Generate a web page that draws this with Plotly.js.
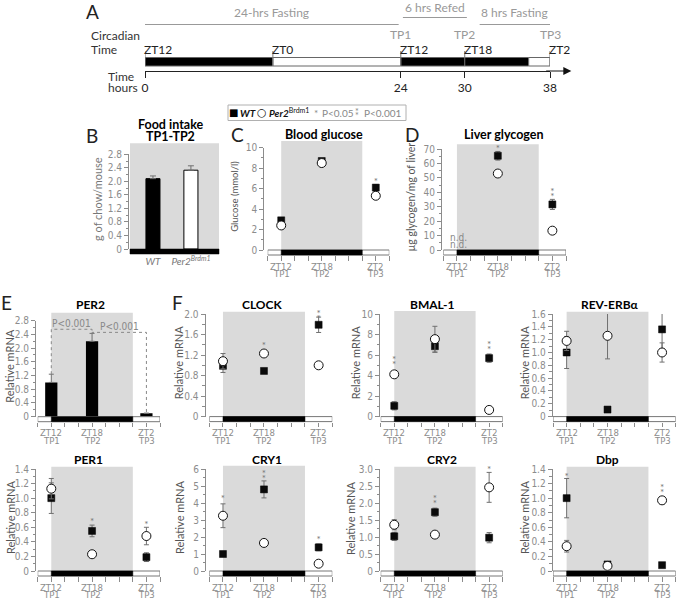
<!DOCTYPE html>
<html><head><meta charset="utf-8">
<script src="https://cdn.plot.ly/plotly-3.0.1.min.js"></script>
<style>html,body{margin:0;padding:0;background:#fff}#chart{width:678px;height:601px}</style>
</head><body><div id="chart"></div>
<script>
// ================= DATA =================
// Panel A – experimental timeline (hours from start)
const aPhaseStart = [0, 12, 24, 36];
const aPhaseEnd   = [12, 24, 36, 38];
const aPhaseDark  = [true, false, true, false];
const aZTHours  = [0, 12, 24, 30, 38];
const aZTLabels = ['ZT12', 'ZT0', 'ZT12', 'ZT18', 'ZT2'];
const aTPHours  = [24, 30, 38];
const aTPLabels = ['TP1', 'TP2', 'TP3'];
const aHourTicks = [0, 24, 30, 38];
const aPeriodStart  = [0, 24.2, 31.4];
const aPeriodEnd    = [23.8, 30.2, 38];
const aPeriodLabels = ['24-hrs Fasting', '6 hrs Refed', '8 hrs Fasting'];

// Sampling times (hours on the timeline)
const timeHours = [24, 30, 38];
const timeZT = ['ZT12', 'ZT18', 'ZT2'];
const timeTP = ['TP1', 'TP2', 'TP3'];
const darkPhase = [24, 36];
const xTickVals = [22, 24, 26, 28, 30, 32, 34, 36, 38, 40];

// B – food intake TP1-TP2
const foodGroups = ['<i>WT</i>', '<i>Per2<sup>Brdm1</sup></i>'];
const foodIntake = [2.08, 2.33];
const foodIntakeErr = [0.08, 0.13];

// C – blood glucose
const glucoseWT = [2.9, 8.7, 6.1];
const glucoseWTErr = [0.15, 0.2, 0.3];
const glucosePer2 = [2.4, 8.5, 5.3];
const glucosePer2Err = [0.15, 0.2, 0.2];
const glucoseSig = ['', '', '*'];
const glucoseSigY = [null, null, 6.6];

// D – liver glycogen
const glycogenWT = [null, 65.3, 31.6];
const glycogenWTErr = [0, 3, 3.5];
const glycogenPer2 = [null, 53, 13.4];
const glycogenPer2Err = [0, 0, 0];
const glycogenSig = ['', '*', '**'];
const glycogenSigY = [null, 69.5, 36.5];
const glycogenND = ['n.d.', '', ''];

// E – PER2 mRNA (WT only)
const per2Mrna = [1.0, 2.2, 0.1];
const per2MrnaErr = [0.24, 0.23, 0];
const per2BracketFrom = [0, 1];
const per2BracketTo   = [1, 2];
const per2BracketHeight = [2.55, 2.46];
const per2BracketText = ['P&lt;0.001', 'P&lt;0.001'];

// F – clock genes: WT (filled squares) and Per2Brdm1 (open circles)
const clockWT = [0.99, 0.89, 1.79],  clockWTErr = [0.13, 0.03, 0.15];
const clockPer2 = [1.08, 1.23, 1.0], clockPer2Err = [0.15, 0.05, 0];
const clockSig = ['', '*', '**'],    clockSigY = [null, 1.36, 1.9];

const bmalWT = [1.05, 6.86, 5.7],    bmalWTErr = [0.4, 0.6, 0.4];
const bmalPer2 = [4.12, 7.55, 0.65], bmalPer2Err = [0.3, 1.25, 0.1];
const bmalSig = ['**', '', '**'],    bmalSigY = [5.0, null, 6.45];

const revWT = [1.0, 0.11, 1.36],     revWTErr = [0.25, 0.02, 0.3];
const revPer2 = [1.18, 1.26, 1.0],   revPer2Err = [0.15, 0.36, 0.15];
const revSig = ['', '*', ''],        revSigY = [null, 1.62, null];

const per1WT = [1.0, 0.55, 0.19],    per1WTErr = [0.21, 0.08, 0.06];
const per1Per2 = [1.13, 0.23, 0.48], per1Per2Err = [0.14, 0.03, 0.12];
const per1Sig = ['', '*', '*'],      per1SigY = [null, 0.67, 0.63];

const cry1WT = [1.0, 4.8, 1.39],     cry1WTErr = [0.1, 0.5, 0.2];
const cry1Per2 = [3.25, 1.65, 0.43], cry1Per2Err = [0.7, 0.1, 0.05];
const cry1Sig = ['*', '**', '*'],    cry1SigY = [4.2, 5.4, 1.82];

const cry2WT = [1.02, 1.73, 0.98],   cry2WTErr = [0.12, 0.12, 0.15];
const cry2Per2 = [1.36, 1.07, 2.46], cry2Per2Err = [0.15, 0.03, 0.44];
const cry2Sig = ['', '**', '*'],     cry2SigY = [null, 1.97, 2.97];

const dbpWT = [1.0, 0.09, 0.08],     dbpWTErr = [0.27, 0.01, 0.01];
const dbpPer2 = [0.34, 0.07, 0.97],  dbpPer2Err = [0.08, 0.02, 0.05];
const dbpSig = ['*', '', '**'],      dbpSigY = [1.29, null, 1.07];

// ================= DRAWING =================
const W = 678, H = 601;
const fx = p => p / W;
const fy = p => 1 - p / H;
const NARROW = "'Liberation Sans Narrow','DejaVu Sans Condensed',Lato,sans-serif";
const SANS = "Lato,'Open Sans','DejaVu Sans',sans-serif";
const AXC = '#8c8c8c', TXTG = '#8c8c8c', SHADE = '#dadada', ERRC = '#707070';

const data = [], shapes = [], ann = [];
const layout = {
  width: W, height: H, margin: {l: 0, r: 0, t: 0, b: 0, pad: 0},
  paper_bgcolor: '#fff', plot_bgcolor: 'rgba(0,0,0,0)', showlegend: false, hovermode: false,
  font: {family: NARROW, color: '#333'}, shapes: shapes, annotations: ann
};

function A(o) { ann.push(Object.assign({showarrow: false, xanchor: 'center', yanchor: 'middle'}, o)); }
function txt(text, xp, yp, o) {
  A(Object.assign({text: text, x: fx(xp), y: fy(yp), xref: 'paper', yref: 'paper',
    font: {family: SANS, size: 12, color: '#222'}}, o || {}));
}

// ---------- Panel A ----------
layout.xaxis = {domain: [fx(145), fx(550)], range: [0, 38], anchor: 'free', position: fy(71),
  showline: true, linecolor: '#222', linewidth: 1, ticks: 'outside', ticklen: 6, tickcolor: '#222',
  tickvals: aHourTicks, ticktext: aHourTicks.map(String),
  tickfont: {family: SANS, size: 12, color: '#222'}, showgrid: false, zeroline: false};
layout.yaxis = {domain: [fy(70), 1], range: [0, 1], visible: false};
data.push({type: 'scatter', x: [aHourTicks[0]], y: [0], mode: 'markers', marker: {opacity: 0},
  xaxis: 'x', yaxis: 'y', hoverinfo: 'skip'});
aPhaseStart.forEach((s, i) => shapes.push({type: 'rect', xref: 'x', yref: 'paper', x0: s, x1: aPhaseEnd[i],
  y0: fy(66), y1: fy(57.5), fillcolor: aPhaseDark[i] ? '#000' : '#fff', line: {color: '#666', width: 1}}));
aZTHours.forEach(h => shapes.push({type: 'line', xref: 'x', yref: 'paper', x0: h, x1: h,
  y0: fy(66), y1: fy(51), line: {color: '#777', width: 1}}));
aZTHours.forEach((h, i) => A({text: aZTLabels[i], x: h, xref: 'x', y: fy(49.5), yref: 'paper',
  xanchor: 'left', xshift: -3, font: {family: SANS, size: 12, color: '#222'}}));
aTPHours.forEach((h, i) => A({text: aTPLabels[i], x: h, xref: 'x', y: fy(35), yref: 'paper',
  font: {family: SANS, size: 12, color: '#999'}}));
const periodLineY = [24.5, 17.5, 24.5], periodTextY = [13, 8, 13];
aPeriodStart.forEach((s, i) => {
  shapes.push({type: 'line', xref: 'x', yref: 'paper', x0: s, x1: aPeriodEnd[i],
    y0: fy(periodLineY[i]), y1: fy(periodLineY[i]), line: {color: '#999', width: 1}});
  A({text: aPeriodLabels[i], x: (s + aPeriodEnd[i]) / 2, xref: 'x', y: fy(periodTextY[i]), yref: 'paper',
    font: {family: SANS, size: 12, color: '#999'}});
});
ann.push({text: '', x: 40, y: fy(71), xref: 'x', yref: 'paper', ax: 37.5, ay: fy(71), axref: 'x', ayref: 'paper',
  showarrow: true, arrowhead: 2, arrowsize: 1.6, arrowwidth: 1, arrowcolor: '#111'});
txt('Circadian', 89, 36, {xanchor: 'left', font: {family: SANS, size: 12, color: '#333'}});
txt('Time', 89, 49, {xanchor: 'left', font: {family: SANS, size: 12, color: '#333'}});
txt('Time', 106, 76, {xanchor: 'left', font: {family: SANS, size: 12, color: '#333'}});
txt('hours', 106, 88, {xanchor: 'left', font: {family: SANS, size: 12, color: '#333'}});
txt('A', 92, 12, {font: {family: SANS, size: 19, color: '#222'}});

// ---------- Legend ----------
shapes.push({type: 'rect', xref: 'paper', yref: 'paper', x0: fx(228), x1: fx(406), y0: fy(120.5), y1: fy(105),
  fillcolor: '#fff', line: {color: '#b0b0b0', width: 1}});
txt('■', 233.5, 112.5, {font: {family: 'DejaVu Sans', size: 10, color: '#000'}});
txt('<b><i>WT</i></b>', 238, 112.5, {xanchor: 'left', font: {family: SANS, size: 10, color: '#111'}});
txt('○', 261.5, 112.5, {font: {family: 'DejaVu Sans', size: 11, color: '#111'}});
txt('<b><i>Per2</i></b><sup>Brdm1</sup>', 267, 112.5, {xanchor: 'left', font: {family: SANS, size: 10, color: '#111'}});
txt('*', 316, 113, {font: {family: SANS, size: 10, color: '#888'}});
txt('P&lt;0.05', 320, 112.5, {xanchor: 'left', font: {family: SANS, size: 10, color: '#888'}});
txt('*', 357, 111, {font: {family: SANS, size: 9, color: '#888'}});
txt('*', 357, 115.5, {font: {family: SANS, size: 9, color: '#888'}});
txt('P&lt;0.001', 362, 112.5, {xanchor: 'left', font: {family: SANS, size: 10, color: '#888'}});

// ---------- helpers ----------
function yAxis(c) {
  const tv = [];
  for (let k = 0; k * c.major <= c.top + 1e-9; k++) tv.push(+(k * c.major).toFixed(3));
  return {domain: [fy(c.y0), fy(c.yTop)], range: [0, c.top], anchor: 'free', position: fx(c.axisX),
    showline: true, linecolor: AXC, linewidth: 1, ticks: 'outside', ticklen: 4, tickcolor: AXC, tickwidth: 1,
    tickvals: tv, ticktext: tv.map(v => v === 0 ? '0' : v.toFixed(c.dec)),
    tickfont: {family: NARROW, size: 10, color: TXTG},
    minor: {ticks: 'outside', ticklen: 2.5, tickcolor: AXC, tick0: 0, dtick: c.minor, showgrid: false},
    showgrid: false, zeroline: false};
}
function decorations(c) {
  txt(c.title, c.titleX, c.titleY, {font: {family: SANS, size: c.titleSize || 12, color: '#000', weight: 'bold'}});
  txt(c.ytitle, c.ytitleX, (c.y0 + c.yTop) / 2 - 2, {textangle: -90,
    font: {family: SANS, size: c.ytitleSize || 11, color: '#555'}});
  if (c.letter) txt(c.letter, c.letterX, c.letterY, {font: {family: SANS, size: 19, color: '#222'}});
}
function timePanel(c) {
  const n = c.n, xr = 'x' + n, yr = 'y' + n;
  layout['xaxis' + n] = {domain: [fx(c.x0), fx(c.x1)], range: [xTickVals[0], xTickVals[xTickVals.length - 1]],
    anchor: 'free', position: fy(c.y0 + 5), showline: false, ticks: 'outside', ticklen: 4.5,
    tickcolor: AXC, tickwidth: 1, tickvals: xTickVals, showticklabels: false, showgrid: false, zeroline: false};
  layout['yaxis' + n] = yAxis(c);
  const hpx = c.y0 - c.yTop;
  shapes.push({type: 'rect', xref: xr, yref: yr + ' domain', x0: darkPhase[0], x1: darkPhase[1],
    y0: 0, y1: (c.y0 - c.grayTop) / hpx, fillcolor: SHADE, line: {width: 0}, layer: 'below'});
  shapes.push({type: 'rect', xref: xr, yref: yr + ' domain', x0: xTickVals[0], x1: xTickVals[xTickVals.length - 1],
    y0: -5 / hpx, y1: 0, fillcolor: '#fff', line: {color: '#777', width: 1}, layer: 'above'});
  shapes.push({type: 'rect', xref: xr, yref: yr + ' domain', x0: darkPhase[0], x1: darkPhase[1],
    y0: -5 / hpx, y1: 0, fillcolor: '#000', line: {color: '#000', width: 0.5}, layer: 'above'});
  timeHours.forEach((h, i) => {
    A({text: timeZT[i], x: h, xref: xr, y: fy(c.y0 + 16), yref: 'paper',
      font: {family: NARROW, size: 9.5, color: TXTG}});
    A({text: timeTP[i], x: h, xref: xr, y: fy(c.y0 + 23.5), yref: 'paper',
      font: {family: NARROW, size: 9.5, color: TXTG}});
  });
  decorations(c);
}
function points(c, wt, wtErr, p2, p2Err, sig, sigY) {
  const xr = 'x' + c.n, yr = 'y' + c.n;
  data.push({type: 'scatter', mode: 'markers', x: timeHours, y: wt, xaxis: xr, yaxis: yr, cliponaxis: false,
    marker: {symbol: 'square', size: 7, color: '#0a0a0a', line: {color: '#000', width: 0.5}},
    error_y: {type: 'data', array: wtErr, color: ERRC, thickness: 1, width: 2.5}});
  data.push({type: 'scatter', mode: 'markers', x: timeHours, y: p2, xaxis: xr, yaxis: yr, cliponaxis: false,
    marker: {symbol: 'circle', size: 9, color: '#fff', line: {color: '#111', width: 1}},
    error_y: {type: 'data', array: p2Err, color: ERRC, thickness: 1, width: 2.5}});
  const s1x = [], s1y = [], s2x = [], s2y = [];
  sig.forEach((s, i) => {
    if (s.length >= 1) { s1x.push(timeHours[i]); s1y.push(sigY[i]); }
    if (s.length >= 2) { s2x.push(timeHours[i]); s2y.push(sigY[i]); }
  });
  if (s1x.length) data.push({type: 'scatter', mode: 'text', x: s1x, y: s1y, text: s1x.map(() => '*'),
    textposition: 'middle center', textfont: {family: SANS, size: 10, color: '#777'}, xaxis: xr, yaxis: yr, cliponaxis: false});
  if (s2x.length) data.push({type: 'scatter', mode: 'text', x: s2x, y: s2y, text: s2x.map(() => '*'),
    textposition: 'top center', textfont: {family: SANS, size: 10, color: '#777'}, xaxis: xr, yaxis: yr, cliponaxis: false});
}

// ---------- Panel B ----------
{
  const c = {n: 2, y0: 249, yTop: 154.3, top: 2.8, major: 0.4, minor: 0.2, dec: 1, axisX: 128};
  const hpx = c.y0 - c.yTop;
  layout.xaxis2 = {domain: [fx(130), fx(219)], range: [-0.605, 1.74], anchor: 'free', position: fy(254),
    showline: false, ticks: '', tickvals: foodGroups.map((_, i) => i), ticktext: foodGroups,
    tickfont: {family: SANS, size: 10, color: '#777'}, showgrid: false, zeroline: false};
  layout.yaxis2 = yAxis(c);
  shapes.push({type: 'rect', xref: 'x2 domain', yref: 'y2 domain', x0: 0, x1: 1, y0: 0, y1: (249 - 143.3) / hpx,
    fillcolor: SHADE, line: {width: 0}, layer: 'below'});
  shapes.push({type: 'rect', xref: 'x2 domain', yref: 'y2 domain', x0: 0, x1: 1, y0: -5 / hpx, y1: 0,
    fillcolor: '#000', line: {color: '#000', width: 0.5}, layer: 'above'});
  data.push({type: 'bar', x: foodGroups.map((_, i) => i), y: foodIntake, width: 0.37, xaxis: 'x2', yaxis: 'y2',
    marker: {color: ['#000', '#fff'], line: {color: '#000', width: 1}},
    error_y: {type: 'data', array: foodIntakeErr, arrayminus: [0, 0], symmetric: false, color: ERRC, thickness: 1, width: 3}});
  txt('Food intake', 170, 124, {font: {family: SANS, size: 12.5, color: '#000', weight: 'bold'}});
  txt('TP1-TP2', 170, 136, {font: {family: SANS, size: 12.5, color: '#000', weight: 'bold'}});
  txt('g of chow/mouse', 98, 199, {textangle: -90, font: {family: SANS, size: 11, color: '#777'}});
  txt('B', 92, 135, {font: {family: SANS, size: 19, color: '#222'}});
}

// ---------- Panel C ----------
const cfgC = {n: 3, x0: 267.7, x1: 389.3, axisX: 263.3, y0: 250, yTop: 147.7, top: 10, major: 2, minor: 1, dec: 0,
  grayTop: 141, title: 'Blood glucose', titleX: 324, titleY: 134, titleSize: 12.5,
  ytitle: 'Glucose (mmol/l)', ytitleX: 235, ytitleSize: 9.5, letter: 'C', letterX: 237, letterY: 134};
timePanel(cfgC);
points(cfgC, glucoseWT, glucoseWTErr, glucosePer2, glucosePer2Err, glucoseSig, glucoseSigY);

// ---------- Panel D ----------
const cfgD = {n: 4, x0: 443.3, x1: 566, axisX: 441, y0: 250, yTop: 149, top: 70, major: 10, minor: 5, dec: 0,
  grayTop: 144.3, title: 'Liver glycogen', titleX: 504, titleY: 134, titleSize: 12.5,
  ytitle: 'µg glycogen/mg of liver', ytitleX: 411, ytitleSize: 10.5, letter: 'D', letterX: 412, letterY: 134};
timePanel(cfgD);
points(cfgD, glycogenWT, glycogenWTErr, glycogenPer2, glycogenPer2Err, glycogenSig, glycogenSigY);
glycogenND.forEach((t, i) => {
  if (!t) return;
  [13, 5.5].forEach(sh => A({text: t, x: timeHours[i], y: 0, xref: 'x4', yref: 'y4', yshift: sh, xshift: 2,
    font: {family: NARROW, size: 10, color: '#888'}}));
});

// ---------- Panel E (PER2) ----------
const cfgE = {n: 5, x0: 37.7, x1: 160, axisX: 35, y0: 416.7, yTop: 320.7, top: 2.8, major: 0.4, minor: 0.2, dec: 1,
  grayTop: 312.7, title: 'PER2', titleX: 90, titleY: 304, ytitle: 'Relative mRNA', ytitleX: 10,
  letter: 'E', letterX: 6, letterY: 302};
timePanel(cfgE);
data.push({type: 'bar', x: timeHours, y: per2Mrna, width: 1.8, xaxis: 'x5', yaxis: 'y5',
  marker: {color: '#000', line: {width: 0}},
  error_y: {type: 'data', array: per2MrnaErr, arrayminus: [0, 0, 0], symmetric: false, color: ERRC, thickness: 1, width: 2.5}});
per2BracketFrom.forEach((a, i) => {
  const b = per2BracketTo[i], h = per2BracketHeight[i];
  const ya = per2Mrna[a] + per2MrnaErr[a], yb = per2Mrna[b] + per2MrnaErr[b];
  shapes.push({type: 'path', xref: 'x5', yref: 'y5',
    path: 'M' + timeHours[a] + ',' + ya + ' L' + timeHours[a] + ',' + h + ' L' + timeHours[b] + ',' + h + ' L' + timeHours[b] + ',' + yb,
    line: {color: '#888', width: 1, dash: 'dot'}});
  A({text: per2BracketText[i], x: (timeHours[a] + timeHours[b]) / 2, y: h, xref: 'x5', yref: 'y5', yshift: 6,
    font: {family: NARROW, size: 10, color: '#888'}});
});

// ---------- Panel F ----------
const top1 = {y0: 416.6, yTop: 314}, bot = {y0: 571, yTop: 469};
const cfgClock = Object.assign({n: 6, x0: 209.3, x1: 332.3, axisX: 204.5, top: 2.0, major: 0.4, minor: 0.2, dec: 1,
  grayTop: 311.7, title: 'CLOCK', titleX: 262, titleY: 304, ytitle: 'Relative mRNA', ytitleX: 178,
  letter: 'F', letterX: 177, letterY: 302}, top1);
const cfgBmal = Object.assign({n: 7, x0: 380.7, x1: 502.7, axisX: 379, top: 10, major: 2, minor: 1, dec: 0,
  grayTop: 311, title: 'BMAL-1', titleX: 432, titleY: 304, ytitle: 'Relative mRNA', ytitleX: 355}, top1);
const cfgRev = Object.assign({n: 8, x0: 553, x1: 675.7, axisX: 551.7, top: 1.6, major: 0.2, minor: 0.1, dec: 1,
  grayTop: 311.7, title: 'REV-ERBα', titleX: 610, titleY: 304, ytitle: 'Relative mRNA', ytitleX: 524}, top1);
const cfgPer1 = Object.assign({n: 9, x0: 37.7, x1: 160, axisX: 35, top: 1.4, major: 0.2, minor: 0.1, dec: 1,
  grayTop: 466.7, title: 'PER1', titleX: 88, titleY: 459, ytitle: 'Relative mRNA', ytitleX: 10}, bot);
const cfgCry1 = Object.assign({n: 10, x0: 209.3, x1: 332.3, axisX: 205, top: 6, major: 1, minor: 0.5, dec: 0,
  grayTop: 465.7, title: 'CRY1', titleX: 267, titleY: 459, ytitle: 'Relative mRNA', ytitleX: 179}, bot);
const cfgCry2 = Object.assign({n: 11, x0: 380.7, x1: 502.7, axisX: 379, top: 3.0, major: 0.5, minor: 0.25, dec: 1,
  grayTop: 466.7, title: 'CRY2', titleX: 442, titleY: 459, ytitle: 'Relative mRNA', ytitleX: 350}, bot);
const cfgDbp = Object.assign({n: 12, x0: 553, x1: 675.7, axisX: 551.7, top: 1.4, major: 0.2, minor: 0.1, dec: 1,
  grayTop: 466.7, title: 'Dbp', titleX: 607, titleY: 459, ytitle: 'Relative mRNA', ytitleX: 524}, bot);

timePanel(cfgClock); points(cfgClock, clockWT, clockWTErr, clockPer2, clockPer2Err, clockSig, clockSigY);
timePanel(cfgBmal);  points(cfgBmal, bmalWT, bmalWTErr, bmalPer2, bmalPer2Err, bmalSig, bmalSigY);
timePanel(cfgRev);   points(cfgRev, revWT, revWTErr, revPer2, revPer2Err, revSig, revSigY);
timePanel(cfgPer1);  points(cfgPer1, per1WT, per1WTErr, per1Per2, per1Per2Err, per1Sig, per1SigY);
timePanel(cfgCry1);  points(cfgCry1, cry1WT, cry1WTErr, cry1Per2, cry1Per2Err, cry1Sig, cry1SigY);
timePanel(cfgCry2);  points(cfgCry2, cry2WT, cry2WTErr, cry2Per2, cry2Per2Err, cry2Sig, cry2SigY);
timePanel(cfgDbp);   points(cfgDbp, dbpWT, dbpWTErr, dbpPer2, dbpPer2Err, dbpSig, dbpSigY);

Plotly.newPlot('chart', data, layout, {staticPlot: true, displayModeBar: false});
</script>
</body></html>
